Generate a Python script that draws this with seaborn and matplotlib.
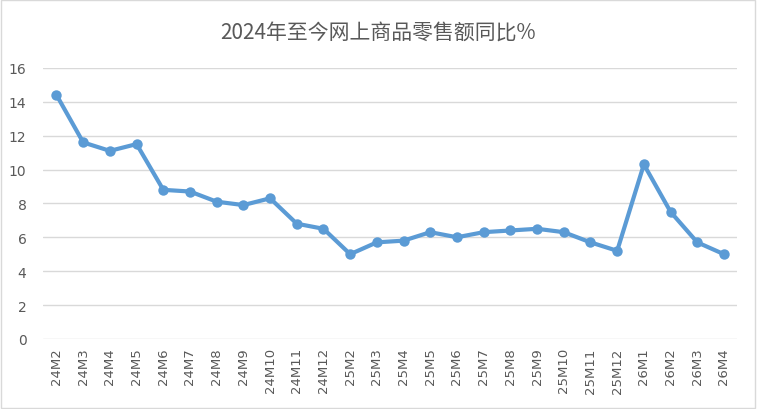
import pandas as pd
import seaborn as sns
import matplotlib.pyplot as plt
from matplotlib.patches import Rectangle

months = ['24M2', '24M3', '24M4', '24M5', '24M6', '24M7', '24M8', '24M9', '24M10', '24M11', '24M12',
          '25M2', '25M3', '25M4', '25M5', '25M6', '25M7', '25M8', '25M9', '25M10', '25M11', '25M12',
          '26M1', '26M2', '26M3', '26M4']
yoy = [14.4, 11.6, 11.1, 11.5, 8.8, 8.7, 8.1, 7.9, 8.3, 6.8, 6.5,
       5.0, 5.7, 5.8, 6.3, 6.0, 6.3, 6.4, 6.5, 6.3, 5.7, 5.2,
       10.3, 7.5, 5.7, 5.0]
title = '2024年至今网上商品零售额同比%'

df = pd.DataFrame({'month': months, 'yoy': yoy})

sns.set_style('white')
plt.rcParams['font.family'] = ['Noto Sans CJK SC', 'DejaVu Sans']

fig = plt.figure(figsize=(7.57, 4.10), dpi=100)
ax = fig.add_axes([0.057, 0.171, 0.917, 0.661])

sns.lineplot(data=df, x='month', y='yoy', ax=ax, color='#5B9BD5', linewidth=3,
             marker='o', markersize=7.5, markeredgewidth=0, sort=False)

ax.set_ylim(0, 16)
ax.set_yticks(range(0, 17, 2))
ax.set_xlim(-0.5, len(months) - 0.5)
ax.yaxis.grid(True, color='#D9D9D9', linewidth=1)
ax.set_axisbelow(True)
for s in ax.spines.values():
    s.set_visible(False)
ax.set_xlabel('')
ax.set_ylabel('')
ax.tick_params(axis='x', rotation=90, labelsize=9.5, colors='#595959', length=0, pad=6)
ax.tick_params(axis='y', labelsize=10, colors='#595959', length=0, pad=12)
for lab in ax.get_xticklabels():
    lab.set_family('DejaVu Sans')
for lab in ax.get_yticklabels():
    lab.set_family('DejaVu Sans')

fig.text(0.5, 0.92, title, ha='center', va='center', fontsize=15, color='#595959')

fig.patches.append(Rectangle((0.001, 0.002), 0.997, 0.995, transform=fig.transFigure,
                             fill=False, edgecolor='#D9D9D9', linewidth=1))

fig.savefig('out.png', dpi=100)
